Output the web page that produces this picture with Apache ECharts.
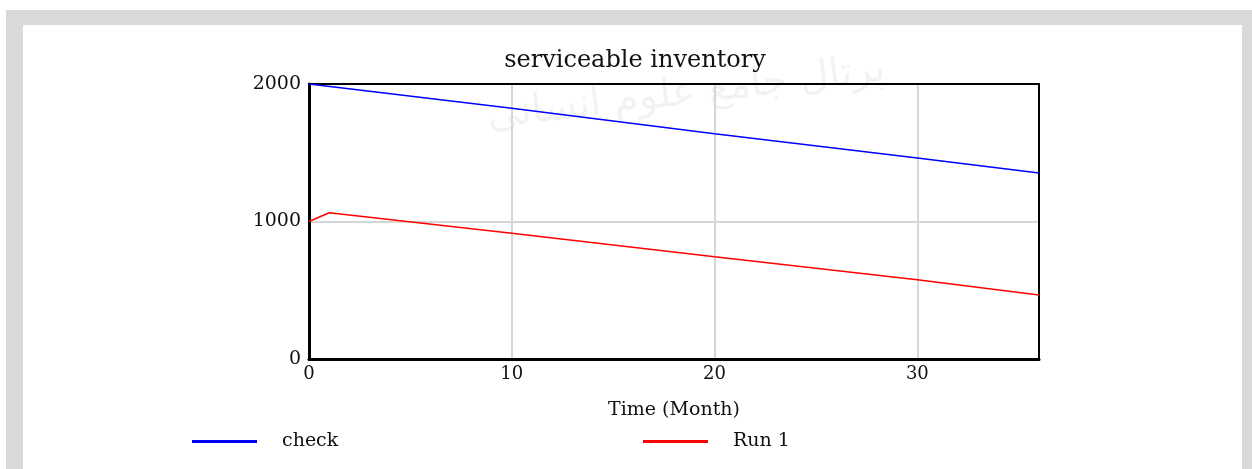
<!DOCTYPE html>
<html>
<head>
<meta charset="utf-8">
<title>serviceable inventory</title>
<script src="https://cdn.jsdelivr.net/npm/echarts@6/dist/echarts.min.js"></script>
<style>
  html, body { margin: 0; padding: 0; background: #fff; }
  #chart { width: 1252px; height: 469px; }
</style>
</head>
<body>
<div id="chart"></div>
<script>
  // data
  const checkMonths = [0, 10, 20, 30, 36];
  const checkVals = [2000, 1823, 1638, 1462, 1352];
  const run1Months = [0, 1, 10, 20, 30, 36];
  const run1Vals = [1000, 1064, 914, 744, 576, 465];
  const xTicks = [0, 10, 20, 30];
  const yTicks = [0, 1000, 2000];

  const pairs = (xs, ys) => xs.map((x, i) => [x, ys[i]]);
  const serif = 'DejaVu Serif';
  const txt = '#111';

  let myChart = echarts.init(document.getElementById('chart'));
  let option = {
    animation: false,
    backgroundColor: '#fff',
    graphic: [
      { type: 'rect', z: -10, shape: { x: 6, y: 10, width: 1246, height: 470 }, style: { fill: '#d9d9d9' } },
      { type: 'rect', z: -9, shape: { x: 23, y: 25, width: 1219, height: 460 }, style: { fill: '#fff' } },
      {
        // faint watermark behind the plot
        type: 'text', z: -8, left: 485, top: 50, rotation: 0.12,
        style: { text: 'پرتال جامع علوم انسانی', font: '40px "DejaVu Sans"', fill: 'rgba(0,0,0,0.05)' }
      }
    ],
    title: {
      text: 'serviceable inventory',
      left: 630,
      textAlign: 'center',
      top: 44,
      textStyle: { fontFamily: serif, fontWeight: 'normal', fontSize: 24, color: txt }
    },
    legend: [
      {
        data: ['check'], left: 187, top: 427,
        icon: 'rect', itemWidth: 65, itemHeight: 3,
        textStyle: { fontFamily: serif, fontSize: 19, color: txt, padding: [0, 0, 0, 20] }
      },
      {
        data: ['Run 1'], left: 638, top: 427,
        icon: 'rect', itemWidth: 65, itemHeight: 3,
        textStyle: { fontFamily: serif, fontSize: 19, color: txt, padding: [0, 0, 0, 20] }
      }
    ],
    grid: { left: 309, right: 213, top: 84, bottom: 110 },
    xAxis: [
      {
        type: 'value', min: 0, max: 36, interval: 10,
        name: 'Time (Month)', nameLocation: 'middle', nameGap: 42,
        nameTextStyle: { fontFamily: serif, fontSize: 19, color: txt },
        axisLine: { lineStyle: { color: '#000', width: 3 } },
        axisTick: { show: false },
        axisLabel: { fontFamily: serif, fontSize: 18, color: txt, margin: 6, customValues: xTicks },
        splitLine: { lineStyle: { color: '#d6d6d6', width: 2 } }
      },
      {
        // top edge of the frame
        type: 'value', position: 'top', min: 0, max: 36,
        axisLine: { onZero: false, lineStyle: { color: '#000', width: 2 } },
        axisTick: { show: false }, axisLabel: { show: false }, splitLine: { show: false }
      }
    ],
    yAxis: [
      {
        type: 'value', min: 0, max: 2000, interval: 1000,
        axisLine: { show: true, lineStyle: { color: '#000', width: 3 } },
        axisTick: { show: false },
        axisLabel: {
          fontFamily: serif, fontSize: 19, color: txt, margin: 8, customValues: yTicks,
          formatter: v => String(v)
        },
        splitLine: { lineStyle: { color: '#d6d6d6', width: 2 } }
      },
      {
        // right edge of the frame
        type: 'value', position: 'right', min: 0, max: 2000,
        axisLine: { show: true, onZero: false, lineStyle: { color: '#000', width: 2 } },
        axisTick: { show: false }, axisLabel: { show: false }, splitLine: { show: false }
      }
    ],
    series: [
      {
        name: 'check', type: 'line', data: pairs(checkMonths, checkVals),
        showSymbol: false, color: '#0000ff', lineStyle: { width: 1.5, color: '#0000ff' }
      },
      {
        name: 'Run 1', type: 'line', data: pairs(run1Months, run1Vals),
        showSymbol: false, color: '#ff0000', lineStyle: { width: 1.5, color: '#ff0000' }
      }
    ]
  };
  myChart.setOption(option);
</script>
</body>
</html>
